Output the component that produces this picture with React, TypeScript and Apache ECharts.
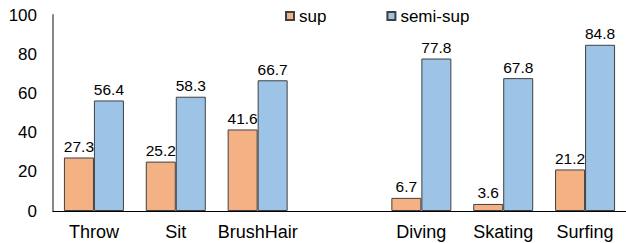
import React, { useEffect, useRef } from "react";
import * as echarts from "echarts";

const categories = ["Throw", "Sit", "BrushHair", "", "Diving", "Skating", "Surfing"];
const supValues: (number | null)[] = [27.3, 25.2, 41.6, null, 6.7, 3.6, 21.2];
const semiSupValues: (number | null)[] = [56.4, 58.3, 66.7, null, 77.8, 67.8, 84.8];
const seriesNames = ["sup", "semi-sup"];

export default function App() {
  const ref = useRef<HTMLDivElement>(null);
  useEffect(() => {
    if (!ref.current) return;
    const chart = echarts.init(ref.current, undefined, { renderer: "svg" });
    const font = "Liberation Sans, Arial, sans-serif";
    const label = {
      show: true,
      position: "top" as const,
      distance: 3,
      color: "#000",
      fontSize: 15.5,
      fontFamily: font,
      formatter: (p: any) => Number(p.value).toFixed(1),
    };
    chart.setOption({
      animation: false,
      legend: {
        top: 7,
        left: 285,
        padding: 0,
        itemWidth: 8,
        itemHeight: 8,
        itemGap: 60,
        icon: "rect",
        textStyle: { fontSize: 17, lineHeight: 18, fontFamily: font, color: "#000" },
        data: seriesNames,
      },
      grid: { left: 53, right: 0, top: 15, bottom: 32, containLabel: false },
      xAxis: {
        type: "category",
        data: categories,
        axisLine: { lineStyle: { color: "#000", width: 1 } },
        axisTick: { show: false },
        axisLabel: { interval: 0, fontSize: 18, fontFamily: font, color: "#000", margin: 12 },
      },
      yAxis: {
        type: "value",
        min: 0,
        max: 100,
        interval: 20,
        axisLine: { show: true, lineStyle: { color: "#888", width: 2 } },
        axisTick: { show: false },
        splitLine: { show: false },
        axisLabel: { fontSize: 17, fontFamily: font, color: "#000", margin: 16 },
      },
      series: [
        {
          name: seriesNames[0],
          type: "bar",
          data: supValues,
          barWidth: 30,
          barGap: "0%",
          itemStyle: { color: "#F4B183", borderColor: "#404040", borderWidth: 1 },
          label,
        },
        {
          name: seriesNames[1],
          type: "bar",
          data: semiSupValues,
          barWidth: 30,
          barGap: "0%",
          itemStyle: { color: "#9DC3E6", borderColor: "#404040", borderWidth: 1 },
          label,
        },
      ],
    });
    return () => chart.dispose();
  }, []);
  return <div ref={ref} style={{ width: 626, height: 243, position: "absolute", left: 0, top: 0 }} />;
}
